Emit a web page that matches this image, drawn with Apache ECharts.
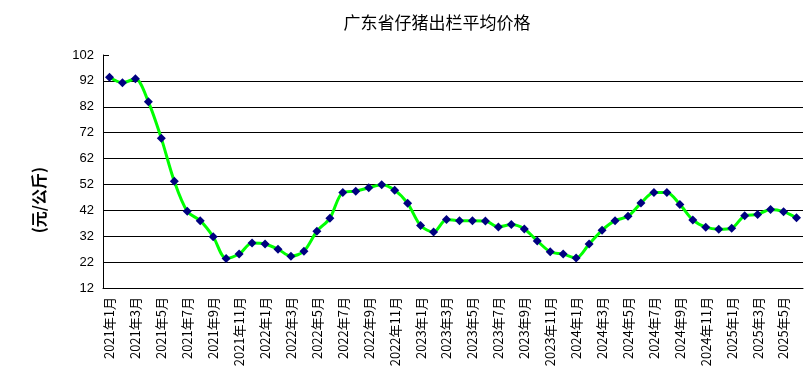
<!DOCTYPE html>
<html><head><meta charset="utf-8">
<script src="https://cdn.jsdelivr.net/npm/echarts@6/dist/echarts.min.js"></script>
<style>html,body{margin:0;padding:0;background:#fff}#c{width:810px;height:385px}</style>
</head><body><div id="c"></div>
<script>
const titleText = '广东省仔猪出栏平均价格';
const yAxisName = '(元/公斤)';
const years = [2021, 2022, 2023, 2024, 2025];
const months = [];
years.forEach(function (y) {
  for (let m = 1; m <= 12; m++) {
    if (y === 2025 && m > 6) break;
    months.push(y + '年' + m + '月');
  }
});
const prices = [
  93.4, 91.3, 92.8, 83.9, 69.8, 53.2, 41.6, 38.0, 31.8, 23.4, 25.1, 29.4,
  29.0, 27.0, 24.3, 26.2, 33.9, 38.9, 48.9, 49.4, 50.7, 51.9, 49.8, 44.7,
  36.1, 33.6, 38.5, 38.0, 38.0, 37.9, 35.6, 36.5, 34.8, 30.2, 26.0, 25.1,
  23.6, 29.0, 34.3, 38.0, 39.7, 44.8, 48.9, 48.9, 44.3, 38.3, 35.5, 34.7,
  35.1, 39.9, 40.4, 42.3, 41.5, 39.1
];
const yMin = 12, yMax = 102, yStep = 10;

const chart = echarts.init(document.getElementById('c'), null, {renderer: 'canvas'});
chart.setOption({
  animation: false,
  backgroundColor: '#fff',
  title: {
    text: titleText, left: 432, top: 9, textAlign: 'center',
    textStyle: {fontSize: 17, fontWeight: 'normal', color: '#000', fontFamily: 'Noto Sans CJK SC'}
  },
  graphic: [{
    type: 'text', left: 31, top: 167, rotation: Math.PI / 2,
    style: {text: yAxisName, font: 'bold 16px "Noto Sans CJK SC"', fill: '#000'}
  }],
  grid: {left: 103, right: 7, top: 55, bottom: 97, containLabel: false},
  xAxis: {
    type: 'category', data: months, boundaryGap: true,
    axisLine: {lineStyle: {color: '#000', width: 1}},
    axisTick: {inside: true, length: 5, interval: 1, lineStyle: {color: '#000'}},
    axisLabel: {interval: 1, rotate: 90, margin: 9, fontSize: 13, color: '#000', fontFamily: 'Noto Sans CJK SC'},
    splitLine: {show: false}
  },
  yAxis: {
    type: 'value', min: yMin, max: yMax, interval: yStep,
    axisLine: {show: true, lineStyle: {color: '#000', width: 1}},
    axisTick: {show: true, inside: true, length: 6, lineStyle: {color: '#000'}},
    axisLabel: {fontSize: 13, color: '#000', margin: 9, fontFamily: 'Liberation Sans'},
    splitLine: {show: true, showMinLine: false, showMaxLine: false, lineStyle: {color: '#000', width: 1}}
  },
  series: [{
    type: 'line', data: prices, smooth: 0.3, showAllSymbol: true,
    lineStyle: {color: '#00ff00', width: 3},
    symbol: 'diamond', symbolSize: 9,
    itemStyle: {color: '#000080'}
  }]
});
</script></body></html>
